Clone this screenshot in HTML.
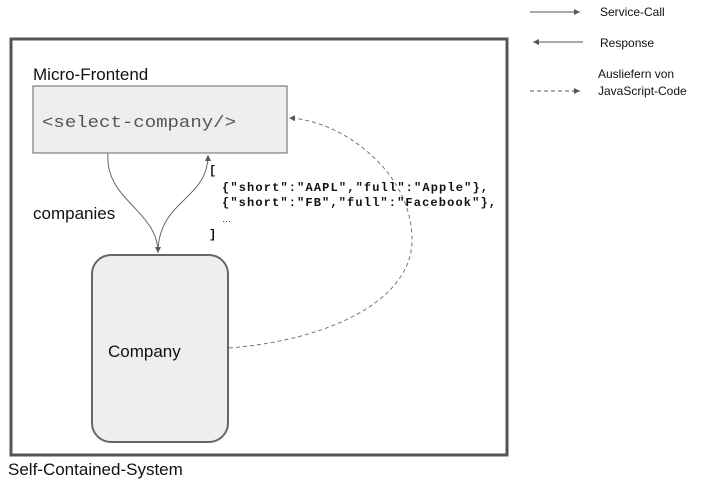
<!DOCTYPE html>
<html><head><meta charset="utf-8"><style>
body{margin:0;background:#fff;}
svg{display:block}
text{font-family:"Liberation Sans",sans-serif;fill:#111}
.m{font-family:"Liberation Mono",monospace;font-weight:bold;font-size:12px}
</style></head><body>
<svg width="704" height="484" viewBox="0 0 704 484" xmlns="http://www.w3.org/2000/svg">
<defs>
<marker id="a" markerWidth="8" markerHeight="8" refX="6" refY="3" orient="auto" markerUnits="userSpaceOnUse"><path d="M0,0 L6,3 L0,6 z" fill="#555"/></marker>
</defs>
<rect x="11" y="39" width="496" height="416" fill="none" stroke="#555" stroke-width="3"/>
<text x="33" y="80" font-size="17">Micro-Frontend</text>
<rect x="33" y="86" width="254" height="67" fill="#eee" stroke="#666" stroke-width="1"/>
<text x="42" y="127" font-size="17" textLength="194" lengthAdjust="spacingAndGlyphs" style="font-family:'Liberation Mono',monospace;fill:#555">&lt;select-company/&gt;</text>
<rect x="92" y="255" width="136" height="187" rx="19" fill="#eee" stroke="#666" stroke-width="2"/>
<text x="108" y="357" font-size="17">Company</text>
<text x="33" y="219" font-size="17">companies</text>
<text x="8" y="475" font-size="17">Self-Contained-System</text>
<path d="M108,153 C104,200 158,210 158,253" fill="none" stroke="#666" stroke-width="1" marker-end="url(#a)"/>
<path d="M158,253 C158,200 208,200 208,155" fill="none" stroke="#666" stroke-width="1" marker-end="url(#a)"/>
<path d="M229,348 C330,340 412,300 412,240 C412,170 340,120 289,118" fill="none" stroke="#777" stroke-width="1" stroke-dasharray="4,3" marker-end="url(#a)"/>
<text class="m" x="209" y="174">[</text>
<text class="m" x="222" y="191" textLength="266" lengthAdjust="spacing">{"short":"AAPL","full":"Apple"},</text>
<text class="m" x="222" y="206" textLength="274" lengthAdjust="spacing">{"short":"FB","full":"Facebook"},</text>
<text x="222" y="222" font-size="9" fill="#555">…</text>
<text class="m" x="209" y="238">]</text>
<line x1="530" y1="12" x2="580" y2="12" stroke="#555" marker-end="url(#a)"/>
<text x="600" y="16" font-size="12">Service-Call</text>
<line x1="583" y1="42" x2="533" y2="42" stroke="#555" marker-end="url(#a)"/>
<text x="600" y="47" font-size="12">Response</text>
<line x1="530" y1="91" x2="580" y2="91" stroke="#555" stroke-dasharray="4,3" marker-end="url(#a)"/>
<text x="598" y="78" font-size="12">Ausliefern von</text>
<text x="598" y="95" font-size="12">JavaScript-Code</text>
</svg>
</body></html>
